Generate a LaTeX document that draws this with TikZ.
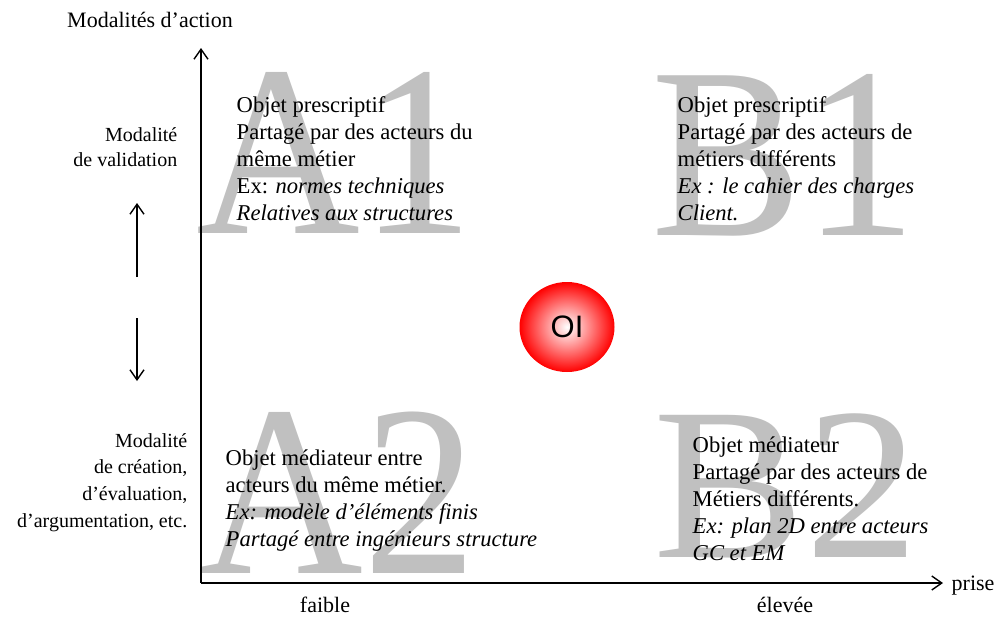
\documentclass[tikz,border=0pt]{standalone}
\usepackage{fontspec}
\setmainfont{Liberation Serif}
\newfontfamily\oifont{Liberation Sans}
\usetikzlibrary{arrows.meta, positioning, shapes.geometric}
\definecolor{cletter}{HTML}{C0C0C0}
\definecolor{cred}{HTML}{FF0000}
\tikzset{
  every picture/.style={x=0.5pt, y=-0.5pt, line width=0.7pt},
  arrow/.style={-{Straight Barb[length=5pt, width=7pt]}},
  bigletter/.style={text=cletter, font=\fontsize{122}{122}\selectfont, inner sep=0pt, anchor=base west,
    xscale=0.93, transform shape},
  quadtext/.style={font=\fontsize{11.3}{13.4}\selectfont, align=left, inner sep=0pt, anchor=base west},
  sidelabel/.style={font=\fontsize{10}{12.3}\selectfont, align=right, inner sep=0pt, anchor=base east},
  axislabel/.style={font=\fontsize{11}{13}\selectfont, inner sep=0pt, anchor=base},
  oi/.style={ellipse, minimum width=47.5pt, minimum height=45pt, inner sep=0pt,
    shading=radial, inner color=white, outer color=cred, font=\oifont\fontsize{15.5}{15.5}\selectfont},
}

\begin{document}
\begin{tikzpicture}
  \useasboundingbox (0,0) rectangle (1002,617);
  % big quadrant letters
  \node[bigletter] (A1) at (196,233) {A1};
  \node[bigletter] (B1) at (651,235) {B1};
  \node[bigletter] (A2) at (199,573) {A2};
  \node[bigletter, yscale=0.89] (B2) at (653,557) {B2};
  % axes
  \coordinate (O) at (201,583);
  \coordinate (ytop) at (201,48);
  \coordinate (xend) at (943,583);
  \draw[arrow] (O) -- (ytop);
  \draw[arrow] (O) -- (xend);
  \node[axislabel] (ylab) at (150,27) {Modalités d’action};
  \node[axislabel, anchor=base west] (xlab) at (951,590) {prise};
  \node[axislabel] (low) at (325,612) {faible};
  \node[axislabel] (high) at (785,612) {élevée};
  % modalities on the left (base = last line)
  \node[sidelabel] (valid) at (178,166) {Modalité\\de validation};
  \node[sidelabel, font=\fontsize{10}{13.3}\selectfont] (creat) at (188,527) {Modalité\\de création,\\d’évaluation,\\d’argumentation, etc.};
  \coordinate (up0) at (137,277);
  \coordinate (up1) at (137,203);
  \coordinate (dn0) at (137,318);
  \coordinate (dn1) at (137,381);
  \draw[arrow] (up0) -- (up1);
  \draw[arrow] (dn0) -- (dn1);
  % quadrant texts
  \node[quadtext] (tA1) at (236,220) {Objet prescriptif\\Partagé par des acteurs du\\même métier\\Ex: \textit{normes techniques}\\\textit{Relatives aux structures}};
  \node[quadtext] (tB1) at (677,220) {Objet prescriptif\\Partagé par des acteurs de\\métiers différents\\\textit{Ex : le cahier des charges}\\\textit{Client.}};
  \node[quadtext] (tA2) at (225,546) {Objet médiateur entre\\acteurs du même métier.\\\textit{Ex: modèle d’éléments finis}\\\textit{Partagé entre ingénieurs structure}};
  \node[quadtext] (tB2) at (692,560) {Objet médiateur\\Partagé par des acteurs de\\Métiers différents.\\\textit{Ex: plan 2D entre acteurs}\\\textit{GC et EM}};
  % intermediary object
  \node[oi] (OI) at (567,327) {OI};
\end{tikzpicture}
\end{document}
